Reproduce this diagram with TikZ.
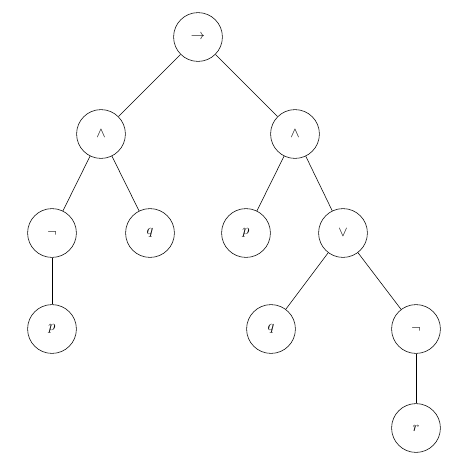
\documentclass[tikz,border=0pt]{standalone}
\usepackage{tikz}
\usepackage{amssymb}

\begin{document}
\begin{tikzpicture}[x=0.025cm, y=-0.025cm,
  op/.style={draw, circle, minimum size=1.22cm, inner sep=0pt, thin}]
\useasboundingbox (0,0) rectangle (471,461);

\node[op] (imp) at (198,37) {$\rightarrow$};
\node[op] (andL) at (101,134) {$\wedge$};
\node[op] (andR) at (295,134) {$\wedge$};
\node[op] (negL) at (52,233) {$\neg$};
\node[op] (qL) at (150,233) {$q$};
\node[op] (pR) at (246,233) {$p$};
\node[op] (or) at (343,233) {$\vee$};
\node[op] (pL) at (52,329) {$p$};
\node[op] (qR) at (271,329) {$q$};
\node[op] (negR) at (416,329) {$\neg$};
\node[op] (r) at (416,428) {$r$};

\draw (imp) -- (andL);
\draw (imp) -- (andR);
\draw (andL) -- (negL);
\draw (andL) -- (qL);
\draw (andR) -- (pR);
\draw (andR) -- (or);
\draw (negL) -- (pL);
\draw (or) -- (qR);
\draw (or) -- (negR);
\draw (negR) -- (r);
\end{tikzpicture}
\end{document}
